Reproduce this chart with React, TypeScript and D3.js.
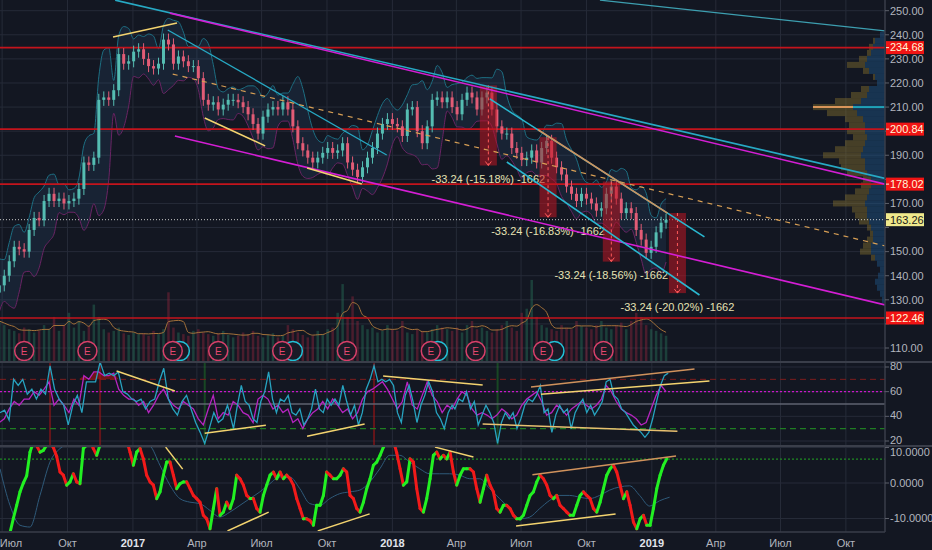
import React from 'react'
import * as d3 from 'd3'

const parseDay = d3.utcParse('%Y-%m-%d')
const day = (s: string) => parseDay(s) as Date

// weekly candles, first week starts 2016-06-27
const FIRST_WEEK = '2016-06-27'
const FIRST_OPEN = 133
const closes = [
  136, 140, 146, 152, 151, 150, 159, 164, 163, 171,
  174, 171, 172, 170, 171, 172, 176, 187, 186, 189,
  213, 214, 213, 217, 232, 228, 229, 233, 234, 230,
  227, 226, 228, 238, 236, 228, 231, 229, 227, 227,
  222, 213, 211, 212, 209, 211, 213, 213,
  212, 210, 207, 203, 199, 206, 209, 210, 209, 212,
  209, 202, 195, 192, 189, 187, 189, 191, 193, 191,
  192, 195, 187, 184, 181, 185, 189, 193, 199, 203,
  205, 203, 202, 198, 209, 210, 200, 195, 202, 213,
  214, 212, 214, 210, 207, 213, 216, 214, 209, 214,
  216, 209, 202, 199, 199, 193, 191, 188, 189, 192,
  187, 193, 196, 189, 185, 182, 177, 174, 171, 174,
  172, 170, 167, 168, 174, 177, 172, 166, 168, 166,
  159, 155, 149.5, 152, 158, 162, 163.26
]
const volumes = [
  50, 45, 40, 38, 35, 42, 40, 36, 38, 45,
  40, 55, 38, 45, 60, 42, 50, 38, 44, 70,
  55, 40, 36, 38, 42, 35, 33, 36, 34, 35,
  32, 38, 34, 40, 85, 42, 36, 34, 32, 38,
  40, 36, 34, 32, 35, 38, 33, 30, 32, 36,
  34, 38, 32, 30, 33, 35, 30, 32, 45, 40,
  36, 33, 30, 32, 38, 34, 40, 42, 60, 95,
  55, 80, 50, 45, 40, 42, 36, 38, 45, 40,
  38, 50, 36, 34, 40, 38, 36, 40, 45, 42,
  40, 38, 42, 36, 45, 50, 40, 42, 38, 36,
  40, 45, 50, 42, 38, 60, 65, 100, 55, 45,
  42, 40, 38, 45, 42, 40, 50, 44, 42, 40,
  45, 50, 42, 40, 45, 48, 40, 50, 60, 55,
  45, 40, 38, 35, 32
]
// magenta line of the RSI pane, one value per week
const rsiSlow = [
  35, 38, 46, 52, 49, 54, 54, 60, 57, 62,
  68, 49, 54, 49, 43, 54, 49, 73, 70, 76,
  76, 73, 73, 75, 62, 57, 54, 54, 49, 52,
  43, 49, 57, 62, 54, 49, 46, 52, 49, 46,
  38, 33, 46, 57, 38, 43,
  41, 52, 49, 43, 41, 35, 54, 57, 54, 46,
  49, 43, 46, 35, 38, 30, 38, 43, 46, 52,
  46, 54, 49, 43, 46, 38, 43, 54, 60, 62,
  65, 68, 62, 54, 46, 52, 68, 49, 46, 57,
  68, 57, 52, 43, 49,
  46, 54, 60, 57, 46, 41, 43, 41, 38, 41,
  46, 43, 38, 41, 49, 54, 57, 60, 52, 41,
  43, 49, 46, 41, 46, 49, 52, 49, 46, 49,
  54, 65, 60, 52, 46, 43, 41, 38, 33, 35,
  46, 57, 65, 60
]
// cyan RSI, read in three stretches
const rsiA = [
  43, 45, 37, 70, 65, 70, 58, 62, 54, 62,
  58, 81, 62, 54, 49, 33, 49, 57, 43, 68,
  68, 68, 84, 73, 75, 73, 76, 60, 58, 54,
  52, 54, 46, 52, 54, 68, 79, 54, 46, 41,
  52, 57, 46, 35, 27, 18, 30, 43, 35, 38,
  49
]
const rsiB = [
  43, 30, 49, 65, 52, 49, 38, 35, 52, 60,
  76, 54, 43, 54, 52, 57, 43, 41, 46, 33,
  38, 46, 62, 46, 43, 54, 49, 54, 49, 65,
  52, 41, 49, 33, 43, 62, 70, 81, 68, 70,
  68, 70, 65, 43, 35, 57, 65, 52, 35, 49,
  57, 68, 60, 43, 38, 30, 43, 49
]
const rsiC = [
  46, 54, 52, 60, 46, 52, 33, 41, 49, 43,
  35, 18, 35, 43, 38, 43, 30, 38, 49, 54,
  52, 57, 65, 43, 46, 27, 41, 49, 43, 46,
  30, 43, 49, 54, 43, 49, 41, 46, 52, 68,
  70, 57, 54, 46, 43, 38, 33, 30, 27, 23,
  27, 38, 52, 65, 73, 75
]
const rsiParts: [string, string, number[]][] = [
  ['2016-06-28', '2017-05-14', rsiA],
  ['2017-05-17', '2018-03-26', rsiB],
  ['2018-03-30', '2019-01-24', rsiC]
]
// lower oscillator (thick line) and its signal
const oscA = [
  -16, -15.5, -15, -14, -10, -6.3, -2.5, 0, 2, 8.7,
  11.5, 10.5, 8.7, 9.2, 10.7, 11.5, 10, 7.5, 3.1, 2.2,
  -0.6, 0.3, 2.6, 0.3, -0.2, 9.7, 10.7, 12, 9.7, 7.8,
  10.7, 12, 13, 13.5, 14, 14, 13.5, 13, 12, 8.7,
  5, 8.7, 9.7, 6.8, 2.2, 0.3, -0.6, -4.4, -2.5, 2.2,
  5.9, 5.9, 2.2, -1.6, -0.2, 0.3, 0.3, -1.6, -3.5, -4.4,
  -5.4, -9.1, -10.1, -12.9, -7.2, -1.6, -9.1, -8.2, -5.4
]
const oscB = [
  -7.2, -4.4, 2.2, 1.2, -0.6, -3.5, -4.4, -4.4, -7.2, -8.2,
  -3.5, -0.6, 2.2, 3.1, 1.2, 3.1, 1.2, 2.2, 1.2, -0.6,
  -4.4, -7.2, -10.1, -10.1, -10.6, -11.9, -6.3, -6.3, -3.5, 3.1,
  2.2, 1.2, 1.2, 2.2, 4, 3.1, -3.5, -4.4, -7.2, -8.2,
  -5.4, -1.6, 1.2, 5, 5.9, 7.8, 10.1, 12, 12.5, 12,
  8.5, 4, -0.6, 0.3, 6.8, 5.9, -1.6, -7.2, -8.2, -4.4,
  1.2, 7.8, 8.7, 6.8, 7.8, 6.8, 8.7, 3.1
]
const oscC = [
  -0.6, 2.2, 4, 4, 4, 3.1, -1.6, -5.4, -1.6,
  2.2, -0.6, -2.5, -7.2, -8.2, -6.3, -6.3, -7.2, -9.1, -10.1,
  -10.1, -9.1, -6.3, -3.5, -2.5, 0.3, 2.2, 1.2, -0.6, -3.5,
  -4.4, -3.5, -6.3, -7.2, -8.2, -9.1, -9.1, -6.3, -3.5, -2.5,
  -3.5, -4.4, -7.2, -8.2, -5.4, -1.6, 2.2, 4, 5, 3.1,
  -0.6, -4.4, -2.5, -6.3, -11, -12.9, -10.1, -9.1, -11.9, -11.9,
  -7.2, -1.6, 2.2, 5, 6.8
]
const oscSpan: [string, string] = ['2016-06-28', '2019-01-22']
const signal = [
  4, -6.3, -11.9, -12.4, -3.5, 5.9, 9.7, 11, 11.5, 12,
  12, 12.5, 12.5, 12, 11.5, 10.5, 5, -0.6, -4.4, -5.4,
  -5.8, -7.7, -9.6, -8.2, -6.3, -4.4, -2.5, -0.2, 1.7, 1.7,
  -1.6, -5.8, -6.3, -4.4, -3, -2.5, -2, 0.3, 4, 7.8,
  7.8, 5.9, 4, 2.6, 2.6, 2.6, 2.2, 1.2, 1.2, -1.6,
  -4.4, -7.2, -10.1, -9.6, -7.2, -4.9, -3.5, -3.5, -4, -4.4,
  -3.5, -2, -1.1, -0.8, -3.5, -6.5, -5, -4
]
const signalSpan: [string, string] = ['2016-06-28', '2019-01-26']

const levels = [234.68, 200.84, 178.02, 122.46]
const lastPrice = 163.26

const earnings = ['2016-08-01', '2016-10-29', '2017-02-26', '2017-05-01', '2017-07-30',
  '2017-10-29', '2018-02-24', '2018-04-28', '2018-08-01', '2018-10-25']
const dividends = ['2017-03-08', '2017-08-14', '2018-03-06', '2018-08-17']

const ranges = [
  { start: '2018-05-04', top: 219.0 },
  { start: '2018-07-27', top: 197.5 },
  { start: '2018-10-24', top: 179.1 },
  { start: '2019-01-25', top: 166.03 }
]
const RANGE_DROP = 33.24
const RANGE_BARS = 1662
const RANGE_DAYS = 24

type Seg = { a: [string, number]; b: [string, number]; color: string; width?: number; dash?: string }
const CYAN = '#27a9c4'
const MAGENTA = '#d41ed4'
const YELLOW = '#f3d36f'
const TAN = '#d0925c'
const priceLines: Seg[] = [
  { a: ['2016-12-07', 254.4], b: ['2019-11-25', 180.4], color: CYAN, width: 1.6 },
  { a: ['2017-02-22', 249.0], b: ['2019-11-25', 178.0], color: MAGENTA, width: 1.6 },
  { a: ['2018-10-20', 254.4], b: ['2019-11-25', 241.6], color: '#3d9fb0', width: 1.2 },
  { a: ['2017-03-01', 198.0], b: ['2019-11-25', 127.9], color: MAGENTA, width: 1.6 },
  { a: ['2017-02-19', 242.0], b: ['2017-12-24', 190.1], color: CYAN, width: 1.3 },
  { a: ['2017-02-26', 223.7], b: ['2019-11-25', 152.4], color: '#d9a055', width: 1.2, dash: '5,5' },
  { a: ['2016-12-04', 239.1], b: ['2017-03-04', 244.9], color: YELLOW, width: 1.6 },
  { a: ['2017-04-12', 205.5], b: ['2017-07-06', 193.9], color: YELLOW, width: 1.6 },
  { a: ['2017-09-03', 184.7], b: ['2017-11-19', 178.1], color: YELLOW, width: 1.6 },
  { a: ['2018-05-18', 213.4], b: ['2019-03-16', 156.1], color: '#2ab8d0', width: 1.6 },
  { a: ['2018-07-25', 200.6], b: ['2019-01-23', 166.0], color: TAN, width: 1.6 },
  { a: ['2018-06-11', 187.2], b: ['2019-03-09', 132.0], color: '#2ab8d0', width: 1.6 }
]
const rsiLines: Seg[] = [
  { a: ['2016-12-09', 76.7], b: ['2017-03-01', 60.5], color: YELLOW },
  { a: ['2017-04-12', 26.3], b: ['2017-07-07', 32.8], color: YELLOW },
  { a: ['2017-09-03', 23.9], b: ['2017-11-23', 33.7], color: YELLOW },
  { a: ['2017-12-19', 72.7], b: ['2018-05-08', 65.4], color: YELLOW },
  { a: ['2018-07-15', 63.7], b: ['2019-03-02', 78.4], color: TAN },
  { a: ['2018-07-29', 58.0], b: ['2019-03-23', 68.6], color: YELLOW },
  { a: ['2018-05-08', 33.7], b: ['2019-02-06', 28.0], color: '#e8c070' }
]
const oscLines: Seg[] = [
  { a: ['2017-02-16', 10.1], b: ['2017-03-12', 3.9], color: YELLOW },
  { a: ['2017-05-14', -13.5], b: ['2017-07-11', -8.2], color: YELLOW },
  { a: ['2017-09-18', -13.5], b: ['2017-11-30', -8.7], color: YELLOW },
  { a: ['2018-03-02', 10.1], b: ['2018-04-25', 7.3], color: YELLOW },
  { a: ['2018-07-17', 2.3], b: ['2019-02-04', 7.6], color: TAN },
  { a: ['2018-06-24', -12.1], b: ['2018-11-11', -8.7], color: YELLOW }
]

// visible range volume profile, buckets of 2.5 from 130
const VP_START = 130
const VP_STEP = 2.5
const vpTotal = [
  3, 5, 8, 10, 7, 5, 8, 14, 25, 22, 18, 15, 18, 26, 30, 33, 52, 40, 30, 24,
  22, 38, 44, 46, 62, 50, 40, 32, 38, 36, 40, 58, 72, 50, 34, 24, 8, 12, 22, 38,
  26, 18, 16, 12, 5
]
const vpUp = [
  3, 5, 8, 10, 7, 5, 8, 10, 14, 14, 12, 12, 14, 16, 18, 18, 20, 18, 16, 14,
  14, 18, 20, 20, 24, 22, 20, 18, 20, 20, 22, 28, 32, 24, 18, 16, 8, 10, 16, 20,
  18, 14, 12, 10, 5
]

const tickDates = ['2016-07-01', '2016-10-01', '2017-01-01', '2017-04-01', '2017-07-01', '2017-10-01',
  '2018-01-01', '2018-04-01', '2018-07-01', '2018-10-01', '2019-01-01', '2019-04-01', '2019-07-01', '2019-10-01']
const tickLabels = ['Июл', 'Окт', '2017', 'Апр', 'Июл', 'Окт', '2018', 'Апр', 'Июл', 'Окт', '2019', 'Апр', 'Июл', 'Окт']
const priceTicks = d3.range(110, 251, 10)
const rsiTicks = [80, 60, 40, 20]
const oscTicks = [10, 0, -10]

const W = 932
const H = 550
const AX = 885
const BG = '#131722'
const GRID = '#262b38'
const TXT = '#b2b5be'
const FONT = '"Liberation Sans", Arial, sans-serif'

const spread = (vals: number[], from: string, to: string) => {
  const t0 = +day(from)
  const t1 = +day(to)
  return vals.map((v, i) => ({ d: new Date(t0 + ((t1 - t0) * i) / (vals.length - 1)), v }))
}

export default function App() {
  const x = d3.scaleUtc().domain([day('2016-06-28'), day('2019-11-25')]).range([0, AX])
  const yP = d3.scaleLinear().domain([110, 250]).range([348, 10.7])
  const yR = d3.scaleLinear().domain([20, 80]).range([441, 367])
  const yO = d3.scaleLinear().domain([-10, 10]).range([518.5, 447.5])
  const yV = d3.scaleLinear().domain([0, 100]).range([362, 280])

  const weeks = closes.map((c, i) => {
    const o = i === 0 ? FIRST_OPEN : closes[i - 1]
    return {
      d: d3.utcDay.offset(day(FIRST_WEEK), 7 * i),
      o,
      c,
      h: Math.max(o, c) + 2.5,
      l: Math.min(o, c) - 2.5,
      v: volumes[i],
      m: rsiSlow[i]
    }
  })

  const bands = weeks.map((w, i) => {
    const win = closes.slice(Math.max(0, i - 3), i + 1)
    const m = d3.mean(win) as number
    const s = win.length > 1 ? (d3.deviation(win) as number) : 4
    return { d: w.d, up: m + 2 * s + 3, lo: m - 2 * s - 3 }
  })
  const bandArea = d3.area<{ d: Date; up: number; lo: number }>()
    .x((b) => x(b.d)).y0((b) => yP(b.lo)).y1((b) => yP(b.up)).curve(d3.curveMonotoneX)(bands)
  const bandUp = d3.line<{ d: Date; up: number }>().x((b) => x(b.d)).y((b) => yP(b.up)).curve(d3.curveMonotoneX)(bands)
  const bandLo = d3.line<{ d: Date; lo: number }>().x((b) => x(b.d)).y((b) => yP(b.lo)).curve(d3.curveMonotoneX)(bands)

  const volMa = weeks.map((w, i) => ({ d: w.d, v: d3.mean(volumes.slice(Math.max(0, i - 3), i + 1)) as number }))
  const volLine = d3.line<{ d: Date; v: number }>().x((p) => x(p.d)).y((p) => yV(p.v)).curve(d3.curveMonotoneX)(volMa)

  const rsi = rsiParts.flatMap(([a, b, vals]) => spread(vals, a, b))
  const rsiPath = d3.line<{ d: Date; v: number }>().x((p) => x(p.d)).y((p) => yR(p.v))(rsi)
  const slowPath = d3.line<{ d: Date; m: number }>().x((p) => x(p.d)).y((p) => yR(p.m))(weeks)
  const hotArea = d3.area<{ d: Date; m: number }>()
    .x((p) => x(p.d)).y0(yR(70)).y1((p) => yR(Math.max(p.m, 70)))(weeks)

  const osc = spread([...oscA, ...oscB, ...oscC], oscSpan[0], oscSpan[1])
  const sig = spread(signal, signalSpan[0], signalSpan[1])
  const sigPath = d3.line<{ d: Date; v: number }>().x((p) => x(p.d)).y((p) => yO(p.v)).curve(d3.curveMonotoneX)(sig)

  const vpW = d3.scaleLinear().domain([0, d3.max(vpTotal) as number]).range([0, 72])
  const poc = d3.maxIndex(vpTotal)
  const pocPrice = VP_START + poc * VP_STEP

  // tick labels that sit under a price box are hidden, as on the platform
  const boxed = [...levels, lastPrice]
  const freeTicks = priceTicks.filter((v) => boxed.every((b) => Math.abs(yP(v) - yP(b)) > 11))

  const seg = (s: Seg, y: d3.ScaleLinear<number, number>, i: number) => (
    <line key={i} x1={x(day(s.a[0]))} y1={y(s.a[1])} x2={x(day(s.b[0]))} y2={y(s.b[1])}
      stroke={s.color} strokeWidth={s.width ?? 1.5} strokeDasharray={s.dash} />
  )

  const boxLabel = (v: number, fill: string, color: string, key: string) => (
    <g key={key}>
      <rect x={AX + 1} y={yP(v) - 6.5} width={38} height={13} fill={fill} />
      <line x1={AX + 1} x2={AX + 4} y1={yP(v)} y2={yP(v)} stroke={color} />
      <text x={AX + 5} y={yP(v)} dy="0.35em" fontSize={11} fill={color}>{v.toFixed(2)}</text>
    </g>
  )

  return (
    <div>
      <style>{`body{margin:0;background:${BG}}`}</style>
      <svg width={W} height={H} style={{ display: 'block', background: BG, fontFamily: FONT }}>
        <defs>
          <clipPath id="pricePane"><rect x={0} y={0} width={AX} height={361} /></clipPath>
          <clipPath id="rsiPane"><rect x={0} y={363} width={AX} height={82} /></clipPath>
          <clipPath id="oscPane"><rect x={0} y={447} width={AX} height={84} /></clipPath>
        </defs>

        {/* grid */}
        <g className="grid" stroke={GRID} strokeWidth={1}>
          {tickDates.map((t) => <line key={t} x1={x(day(t))} x2={x(day(t))} y1={0} y2={532} />)}
          {priceTicks.map((v) => <line key={v} x1={0} x2={AX} y1={yP(v)} y2={yP(v)} />)}
          {rsiTicks.map((v) => <line key={'r' + v} x1={0} x2={AX} y1={yR(v)} y2={yR(v)} />)}
          {oscTicks.map((v) => <line key={'o' + v} x1={0} x2={AX} y1={yO(v)} y2={yO(v)} />)}
        </g>

        <g className="price" clipPath="url(#pricePane)">
          {/* volume profile */}
          {vpTotal.map((t, k) => {
            const p = VP_START + k * VP_STEP
            const y0 = yP(p + VP_STEP / 2)
            const h = yP(p - VP_STEP / 2) - y0
            return (
              <g key={k}>
                <rect x={AX - vpW(t)} y={y0} width={vpW(t) - vpW(vpUp[k])} height={h} fill="rgba(140,118,48,0.42)" />
                <rect x={AX - vpW(vpUp[k])} y={y0} width={vpW(vpUp[k])} height={h} fill="rgba(30,88,140,0.45)" />
              </g>
            )
          })}
          <line x1={AX - vpW(vpTotal[poc])} x2={AX - vpW(vpUp[poc])} y1={yP(pocPrice)} y2={yP(pocPrice)} stroke="#d9955a" strokeWidth={2} />
          <line x1={AX - vpW(vpUp[poc])} x2={AX} y1={yP(pocPrice)} y2={yP(pocPrice)} stroke="#1fa2b8" strokeWidth={2} />

          {/* bollinger */}
          <path d={bandArea || ''} fill="rgba(52,96,140,0.18)" />
          <path d={bandUp || ''} fill="none" stroke="#1d6f83" strokeWidth={1} />
          <path d={bandLo || ''} fill="none" stroke="#6a2464" strokeWidth={1} />

          {/* volume */}
          {weeks.map((w, i) => (
            <rect key={i} x={x(w.d) - 1.25} y={yV(w.v)} width={2.5} height={yV(0) - yV(w.v)}
              fill={w.c >= w.o ? 'rgba(40,120,92,0.42)' : 'rgba(150,38,62,0.42)'} />
          ))}
          <path d={volLine || ''} fill="none" stroke="#a4723a" strokeWidth={1} />

          {/* levels */}
          {levels.map((v) => <line key={v} x1={0} x2={AX} y1={yP(v)} y2={yP(v)} stroke="#c4141c" strokeWidth={1.6} />)}
          <line x1={0} x2={AX} y1={yP(lastPrice)} y2={yP(lastPrice)} stroke="#c9c9c9" strokeDasharray="1,2" />

          {/* candles */}
          {weeks.map((w, i) => {
            const col = w.c >= w.o ? '#55bdb2' : '#e25c76'
            return (
              <g key={i}>
                <line x1={x(w.d)} x2={x(w.d)} y1={yP(w.h)} y2={yP(w.l)} stroke={col} strokeWidth={1} />
                <rect x={x(w.d) - 1.5} y={yP(Math.max(w.o, w.c))} width={3}
                  height={Math.max(1, Math.abs(yP(w.o) - yP(w.c)))} fill={col} />
              </g>
            )
          })}

          {/* price ranges */}
          {ranges.map((r, i) => {
            const x0 = x(day(r.start))
            const x1 = x(d3.utcDay.offset(day(r.start), RANGE_DAYS))
            const cx = (x0 + x1) / 2
            const yb = yP(r.top - RANGE_DROP)
            const pct = ((RANGE_DROP / r.top) * 100).toFixed(2)
            return (
              <g key={i}>
                <rect x={x0} y={yP(r.top)} width={x1 - x0} height={yb - yP(r.top)} fill="rgba(190,22,34,0.55)" />
                <line x1={cx} x2={cx} y1={yP(r.top)} y2={yb} stroke="#ff5a5a" strokeDasharray="3,3" />
                <path d={`M${cx - 3},${yb - 4} L${cx},${yb} L${cx + 3},${yb - 4}`} fill="none" stroke="#ff5a5a" />
                <text x={cx} y={yb + 14} dy="0.35em" textAnchor="middle" fontSize={11} fill="#e6e2b4">
                  {`-${RANGE_DROP.toFixed(2)} (-${pct}%) -${RANGE_BARS}`}
                </text>
              </g>
            )
          })}

          {/* drawings */}
          {priceLines.map((s, i) => seg(s, yP, i))}

          {/* earnings */}
          {dividends.map((d) => (
            <circle key={d} cx={x(day(d))} cy={351} r={9.5} fill="#1a1a26" stroke="#22c2d8" strokeWidth={1.5} />
          ))}
          {earnings.map((d) => (
            <g key={d}>
              <circle cx={x(day(d))} cy={351} r={9.5} fill="#1d1a26" stroke="#d8406a" strokeWidth={1.5} />
              <text x={x(day(d))} y={351} dy="0.36em" textAnchor="middle" fontSize={10} fill="#e4486f">E</text>
            </g>
          ))}
        </g>

        {/* RSI pane */}
        <g className="rsi" clipPath="url(#rsiPane)">
          {rsi.filter((p) => p.v >= 80 || p.v <= 19).map((p, i) => (
            <rect key={i} x={x(p.d) - 1} y={362} width={2} height={84}
              fill={p.v >= 80 ? 'rgba(170,20,20,0.55)' : 'rgba(30,130,40,0.45)'} />
          ))}
          <line x1={0} x2={AX} y1={yR(70)} y2={yR(70)} stroke="#7d1d1d" strokeDasharray="6,4" />
          <line x1={0} x2={AX} y1={yR(60)} y2={yR(60)} stroke="#c817c8" strokeDasharray="2,2" strokeWidth={1.2} />
          <line x1={0} x2={AX} y1={yR(50)} y2={yR(50)} stroke="#5f6370" strokeWidth={1.4} />
          <line x1={0} x2={AX} y1={yR(30)} y2={yR(30)} stroke="#1f7d22" strokeDasharray="6,4" strokeWidth={1.4} />
          <path d={hotArea || ''} fill="rgba(170,20,20,0.6)" />
          <path d={slowPath || ''} fill="none" stroke="#b625c0" strokeWidth={1.3} />
          <path d={rsiPath || ''} fill="none" stroke="#27a3c0" strokeWidth={1.3} />
          {rsiLines.map((s, i) => seg(s, yR, i))}
        </g>

        {/* oscillator pane */}
        <g className="osc" clipPath="url(#oscPane)">
          <line x1={0} x2={AX} y1={yO(6.7)} y2={yO(6.7)} stroke="#1f8a22" strokeDasharray="2,2" strokeWidth={1.2} />
          <path d={sigPath || ''} fill="none" stroke="#2f5a7a" strokeWidth={1} />
          {osc.slice(1).map((p, i) => (
            <line key={i} x1={x(osc[i].d)} y1={yO(osc[i].v)} x2={x(p.d)} y2={yO(p.v)}
              stroke={p.v >= osc[i].v ? '#22f022' : '#f21a1a'} strokeWidth={3} strokeLinecap="round" />
          ))}
          {oscLines.map((s, i) => seg(s, yO, i))}
        </g>

        {/* separators and axes */}
        <line x1={0} x2={W} y1={362} y2={362} stroke="#3a3e4a" strokeWidth={2} />
        <line x1={0} x2={W} y1={446} y2={446} stroke="#3a3e4a" strokeWidth={2} />
        <line x1={0} x2={AX} y1={532} y2={532} stroke="#3a3e4a" strokeWidth={1.5} />
        <line x1={AX} x2={AX} y1={0} y2={532} stroke="#3a3e4a" strokeWidth={1.5} />

        <g fontSize={11} fill={TXT}>
          {priceTicks.map((v) => (
            <line key={v} x1={AX} x2={AX + 4} y1={yP(v)} y2={yP(v)} stroke="#5d606b" />
          ))}
          {freeTicks.map((v) => (
            <text key={v} x={AX + 5} y={yP(v)} dy="0.35em">{v.toFixed(2)}</text>
          ))}
          {rsiTicks.map((v) => (
            <g key={v}>
              <line x1={AX} x2={AX + 4} y1={yR(v)} y2={yR(v)} stroke="#5d606b" />
              <text x={AX + 5} y={yR(v) - 1} dy="0.35em">{v}</text>
            </g>
          ))}
          {oscTicks.map((v) => (
            <g key={v}>
              <line x1={AX} x2={AX + 4} y1={yO(v)} y2={yO(v)} stroke="#5d606b" />
              <text x={AX + 5} y={Math.max(yO(v), 452)} dy="0.35em">{v.toFixed(4)}</text>
            </g>
          ))}
          {tickDates.map((t, i) => {
            const year = /^\d+$/.test(tickLabels[i])
            const tx = Math.max(x(day(t)), 11)
            return (
              <text key={t} x={tx} y={543} dy="0.35em" textAnchor="middle"
                fontWeight={year ? 'bold' : 'normal'} fill={year ? '#e0e3eb' : TXT}>{tickLabels[i]}</text>
            )
          })}
        </g>

        {levels.map((v) => boxLabel(v, '#f01414', '#fff6d8', 'l' + v))}
        {boxLabel(lastPrice, '#efe98c', '#1a1a1a', 'last')}
      </svg>
    </div>
  )
}
